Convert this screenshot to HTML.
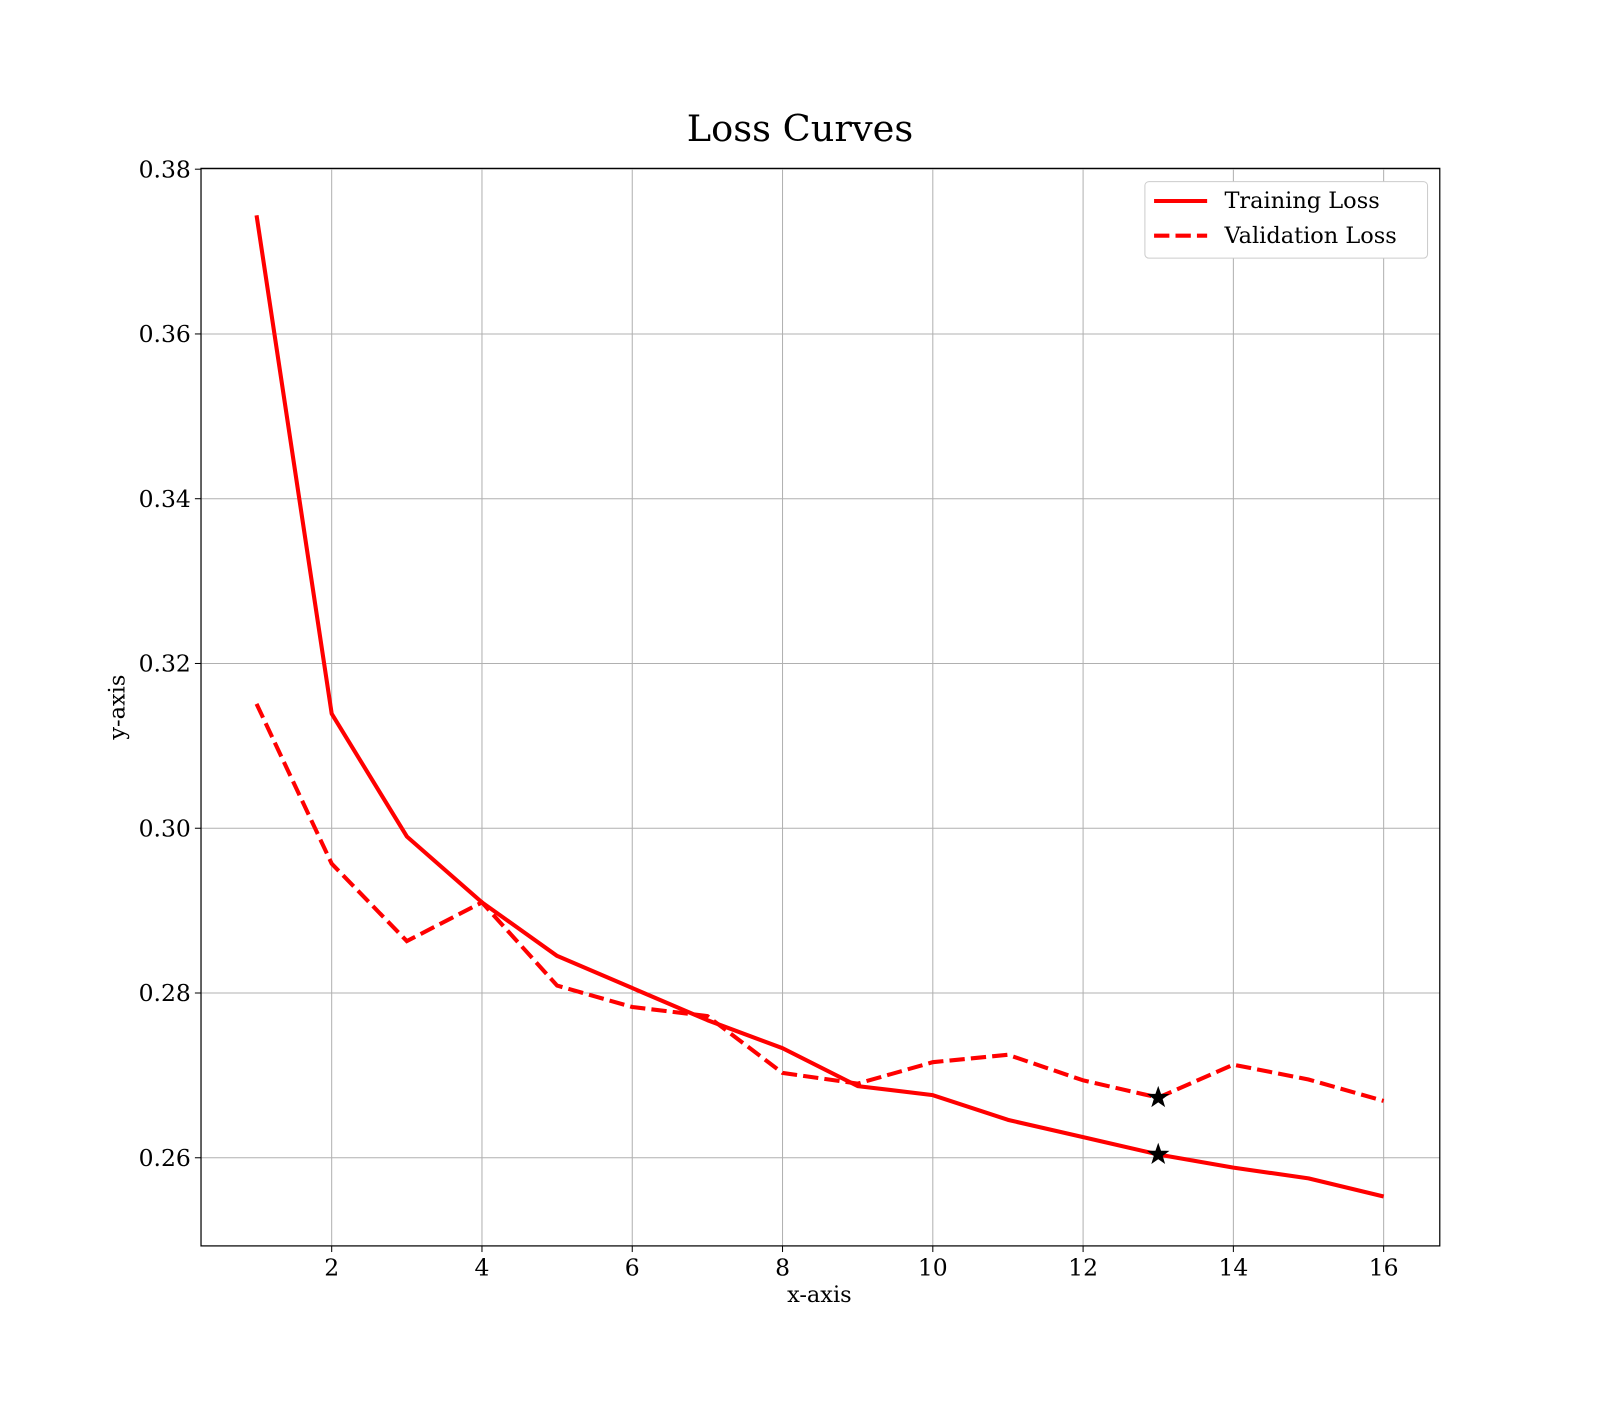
<!DOCTYPE html>
<html><head><meta charset="utf-8"><style>
body{margin:0;background:#fff;}
svg text{font-family:"DejaVu Serif","Liberation Serif",serif;fill:#000;}
</style></head><body>
<svg id="chart" width="1600" height="1400" xmlns="http://www.w3.org/2000/svg">
<rect width="1600" height="1400" fill="#fff"/>
<g transform="scale(1.0204)">
<text x="784" y="138" font-size="36" text-anchor="middle">Loss Curves</text>
<g id="grid"></g>
<g id="series"></g>
<rect x="197" y="165" width="1214" height="1056" fill="none" stroke="#000" stroke-width="1.2"/>
<g id="ticks"></g>
<text x="803" y="1276" font-size="22" text-anchor="middle">x-axis</text>
<text transform="translate(122,693) rotate(-90)" font-size="22" text-anchor="middle">y-axis</text>
<g>
<rect x="1122" y="178" width="277" height="75" rx="4" fill="#fff" stroke="#ccc"/>
<line x1="1131" y1="197" x2="1183" y2="197" stroke="red" stroke-width="4"/>
<text x="1200" y="204" font-size="22">Training Loss</text>
<line x1="1131" y1="231" x2="1183" y2="231" stroke="red" stroke-width="4" stroke-dasharray="15,6"/>
<text x="1200" y="238" font-size="22">Validation Loss</text>
</g>
</g>
</svg>
<script>
const epochs=[1,2,3,4,5,6,7,8,9,10,11,12,13,14,15,16];
const trainLoss=[0.3744,0.3139,0.2990,0.2910,0.2845,0.2806,0.2767,0.2733,0.2687,0.2676,0.2646,0.2625,0.2604,0.2588,0.2575,0.2553];
const valLoss=[0.3151,0.2957,0.2863,0.2910,0.2809,0.2783,0.2772,0.2703,0.2690,0.2716,0.2725,0.2694,0.2673,0.2713,0.2695,0.2669];
const xTicks=[2,4,6,8,10,12,14,16];
const yTicks=[0.26,0.28,0.30,0.32,0.34,0.36,0.38];
const markerEpoch=13;
const NS="http://www.w3.org/2000/svg";
const L=197,R=1411,T=165,B=1221,xmin=0.261,xmax=16.747,ymin=0.2493,ymax=0.3801;
const X=v=>L+(v-xmin)/(xmax-xmin)*(R-L);
const Y=v=>B-(v-ymin)/(ymax-ymin)*(B-T);
function mk(tag,attrs,parent){const e=document.createElementNS(NS,tag);for(const k in attrs)e.setAttribute(k,attrs[k]);document.getElementById(parent).appendChild(e);return e;}
xTicks.forEach(t=>{
 const g=mk('line',{x1:X(t),x2:X(t),y1:T,y2:B,stroke:'#b0b0b0','stroke-width':1},'grid');
 
 
 mk('line',{x1:X(t),x2:X(t),y1:B,y2:B+6,stroke:'#000'},'ticks');
 const tx=mk('text',{x:X(t),y:B+29,'font-size':23,'text-anchor':'middle'},'ticks');
 tx.textContent=t;
 
 
});
yTicks.forEach(t=>{
 const g=mk('line',{x1:L,x2:R,y1:Y(t),y2:Y(t),stroke:'#b0b0b0','stroke-width':1},'grid');
 
 
 mk('line',{x1:L-6,x2:L,y1:Y(t),y2:Y(t),stroke:'#000'},'ticks');
 const tx=mk('text',{x:L-10,y:Y(t)+8,'font-size':23,'text-anchor':'end'},'ticks');
 tx.textContent=t.toFixed(2);
 
 
});
function pts(arr){return epochs.map((e,i)=>X(e)+','+Y(arr[i])).join(' ');}
const tl=mk('polyline',{points:pts(trainLoss),fill:'none',stroke:'red','stroke-width':4,'stroke-linejoin':'round'},'series');


const vl=mk('polyline',{points:pts(valLoss),fill:'none',stroke:'red','stroke-width':4,'stroke-dasharray':'15,6'},'series');


function star(cx,cy,r){let p=[];for(let i=0;i<10;i++){const rr=i%2?r*0.4:r;const a=-Math.PI/2+i*Math.PI/5;p.push((cx+rr*Math.cos(a))+','+(cy+rr*Math.sin(a)));}return p.join(' ');}
const mi=epochs.indexOf(markerEpoch);
[trainLoss,valLoss].forEach((arr,k)=>{
 const s=mk('polygon',{points:star(X(markerEpoch),Y(arr[mi]),10),fill:'#000',stroke:'#000','stroke-width':1},'series');
 
 
});
</script>
</body></html>
